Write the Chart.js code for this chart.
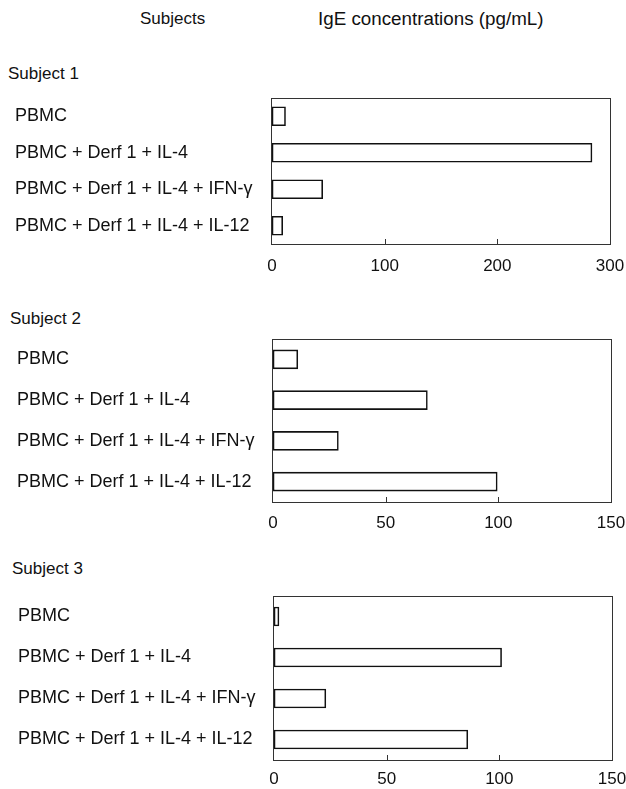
<!DOCTYPE html>
<html>
<head>
<meta charset="utf-8">
<script src="https://cdn.jsdelivr.net/npm/chart.js"></script>
<style>
  body { margin: 0; width: 626px; height: 789px; overflow: hidden; background: #fff;
         font-family: "Liberation Sans", Arial, sans-serif; color: #111; position: relative; }
  .txt { position: absolute; font-size: 17px; line-height: 1; white-space: nowrap; }
  .box { position: absolute; left: 0; width: 626px; }
</style>
</head>
<body>

<div class="txt" style="left:140px; top:10px;">Subjects</div>
<div class="txt" style="left:318px; top:10px; font-size:18.8px;">IgE concentrations (pg/mL)</div>

<div class="txt" style="left:8px; top:65px;">Subject 1</div>
<div class="box" style="top:90px; height:184px;"><canvas id="chart1"></canvas></div>

<div class="txt" style="left:10px; top:310px;">Subject 2</div>
<div class="box" style="top:331px; height:201px;"><canvas id="chart2"></canvas></div>

<div class="txt" style="left:12px; top:560px;">Subject 3</div>
<div class="box" style="top:590px; height:200px;"><canvas id="chart3"></canvas></div>

<script>
const conditions = [
  "PBMC",
  "PBMC + Derf 1 + IL-4",
  "PBMC + Derf 1 + IL-4 + IFN-γ",
  "PBMC + Derf 1 + IL-4 + IL-12"
];
const subject1 = [12, 284, 45, 9.5];
const subject2 = [11, 68.5, 29, 99.5];
const subject3 = [2.2, 101, 23, 86];

const axisMax1 = 300, axisStep1 = 100;
const axisMax23 = 150, axisStep23 = 50;

// frame around plot + small inward ticks on the value axis
const framePlugin = {
  id: "frame",
  afterDraw(chart) {
    const { ctx, chartArea: a, scales } = chart;
    ctx.save();
    ctx.strokeStyle = "#333";
    ctx.lineWidth = 1;
    ctx.strokeRect(a.left - 0.5, a.top + 0.5, a.right - a.left + 1, a.bottom - a.top);
    scales.x.ticks.forEach(t => {
      if (t.value <= 0 || t.value >= scales.x.max) return;
      const px = Math.round(scales.x.getPixelForValue(t.value)) + 0.5;
      ctx.beginPath();
      ctx.moveTo(px, a.bottom);
      ctx.lineTo(px, a.bottom - 5);
      ctx.stroke();
    });
    ctx.restore();
  }
};

function makeChart(id, values, max, step, pad, yWidth, tickPad) {
  new Chart(document.getElementById(id), {
    type: "bar",
    data: {
      labels: conditions,
      datasets: [{
        data: values,
        backgroundColor: "#fff",
        borderColor: "#111",
        borderWidth: 1.6,
        borderSkipped: false,
        barThickness: 19
      }]
    },
    options: {
      indexAxis: "y",
      responsive: true,
      maintainAspectRatio: false,
      animation: false,
      layout: { padding: { left: pad.left, top: pad.top, right: 626 - pad.right, bottom: 0 } },
      plugins: { legend: { display: false }, tooltip: { enabled: false } },
      scales: {
        x: {
          min: 0, max: max,
          grid: { display: false, drawTicks: false },
          border: { display: false },
          ticks: { stepSize: step, color: "#111", padding: tickPad,
                   font: { family: "Liberation Sans", size: 17 } },
          afterFit(s) { s.height = 30; s.paddingLeft = 0; s.paddingRight = 0; }
        },
        y: {
          grid: { display: false, drawTicks: false },
          border: { display: false },
          ticks: { crossAlign: "far", color: "#111",
                   font: { family: "Liberation Sans", size: 18 } },
          afterFit(s) { s.width = yWidth; s.paddingTop = 0; s.paddingBottom = 0; }
        }
      }
    },
    plugins: [framePlugin]
  });
}

makeChart("chart1", subject1, axisMax1, axisStep1, { left: 15, top: 8, right: 610 }, 257, 12);
makeChart("chart2", subject2, axisMax23, axisStep23, { left: 17, top: 8, right: 611 }, 256, 11);
makeChart("chart3", subject3, axisMax23, axisStep23, { left: 18, top: 6, right: 612 }, 256, 9);
</script>

</body>
</html>
